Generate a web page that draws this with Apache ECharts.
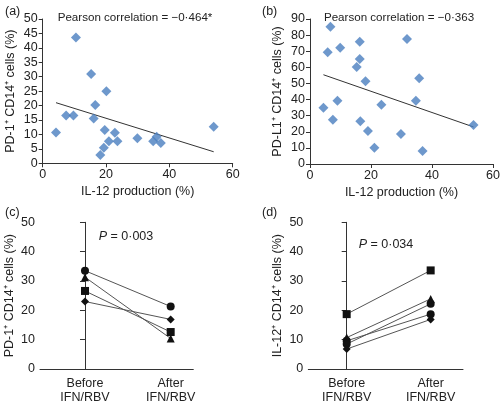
<!DOCTYPE html>
<html><head><meta charset="utf-8">
<script src="https://cdn.jsdelivr.net/npm/echarts@6/dist/echarts.min.js"></script>
<style>html,body{margin:0;padding:0;background:#fff}#c{width:503px;height:405px}</style>
</head><body><div id="c"></div>
<script>
// Panel (a): IL-12 production vs PD-1+ CD14+
const aX = [4.2,7.4,9.7,10.5,15.3,16.6,16.1,20.1,19.6,22.8,20.9,23.6,19.3,18.2,29.9,34.9,36.0,37.3,54.0];
const aY = [10.7,16.6,16.6,43.6,30.9,20.2,15.5,25.0,11.5,10.6,7.6,7.6,5.4,2.9,8.7,7.6,9.2,7.0,12.7];
const aFitX = [4.2,54.0];
const aFitY = [21.0,4.0];
// Panel (b): IL-12 production vs PD-L1+ CD14+
const bX = [6.7,5.8,9.9,16.3,16.3,15.3,18.2,31.8,35.8,34.7,23.4,9.0,4.4,7.5,16.5,19.0,29.8,21.1,36.9,53.6];
const bY = [85.2,69.3,72.2,75.9,65.2,60.2,51.3,77.6,53.2,39.3,36.8,39.3,34.9,27.5,26.5,20.5,18.6,10.1,8.1,24.2];
const bFitX = [4.4,53.6];
const bFitY = [55.4,23.0];
// Panel (c): PD-1+ CD14+ before/after
const cBefore = [33.5,31.3,26.6,23.0];
const cAfter = [21.3,10.4,12.6,16.9];
const cSymbols = ['circle','triangle','rect','diamond'];
// Panel (d): IL-12+ CD14+ before/after
const dBefore = [18.7,10.7,9.6,8.5,6.8];
const dAfter = [33.6,23.9,18.7,22.2,16.9];
const dSymbols = ['rect','triangle','circle','circle','diamond'];
const timeLabels = ['Before\nIFN/RBV','After\nIFN/RBV'];

const FONT = '"Liberation Sans", Arial, sans-serif';
const AX = '#333';
const chart = echarts.init(document.getElementById('c'), null, {renderer:'canvas'});

function valAxis(gi, min, max, interval, name, gap, extra) {
  return Object.assign({
    type:'value', gridIndex:gi, min, max, interval,
    name, nameLocation:'middle', nameGap:gap,
    nameTextStyle:{fontFamily:FONT, fontSize:12.5, color:'#222'},
    axisLine:{show:true, lineStyle:{color:AX, width:1}},
    axisTick:{show:true, length:4, lineStyle:{color:AX}},
    axisLabel:{fontFamily:FONT, fontSize:12.5, color:'#222', margin:5},
    splitLine:{show:false}
  }, extra||{});
}
function timeAxis(gi, min, max) {
  return {
    type:'value', gridIndex:gi, min, max,
    axisLine:{show:true, lineStyle:{color:AX, width:1}},
    axisTick:{show:false},
    splitLine:{show:false},
    axisLabel:{customValues:[0,1], fontFamily:FONT, fontSize:12.5, color:'#222', lineHeight:14, margin:8,
      formatter:(v)=> v===0 ? timeLabels[0] : timeLabels[1]}
  };
}

const series = [];
series.push({type:'scatter', xAxisIndex:0, yAxisIndex:0, symbol:'diamond', symbolSize:10,
  itemStyle:{color:'#4a7ebf'}, data:aX.map((x,i)=>[x,aY[i]]), z:3});
series.push({type:'line', xAxisIndex:0, yAxisIndex:0, symbol:'none', lineStyle:{color:'#333', width:1},
  data:aFitX.map((x,i)=>[x,aFitY[i]]), z:2});
series.push({type:'scatter', xAxisIndex:1, yAxisIndex:1, symbol:'diamond', symbolSize:10,
  itemStyle:{color:'#4a7ebf'}, data:bX.map((x,i)=>[x,bY[i]]), z:3});
series.push({type:'line', xAxisIndex:1, yAxisIndex:1, symbol:'none', lineStyle:{color:'#333', width:1},
  data:bFitX.map((x,i)=>[x,bFitY[i]]), z:2});
cBefore.forEach((b,i)=>{
  series.push({type:'line', xAxisIndex:2, yAxisIndex:2, symbol:cSymbols[i], symbolSize:8, showSymbol:true,
    itemStyle:{color:'#111'}, lineStyle:{color:'#555', width:1}, data:[[0,b],[1,cAfter[i]]]});
});
dBefore.forEach((b,i)=>{
  series.push({type:'line', xAxisIndex:3, yAxisIndex:3, symbol:dSymbols[i], symbolSize:8, showSymbol:true,
    itemStyle:{color:'#111'}, lineStyle:{color:'#555', width:1}, data:[[0,b],[1,dAfter[i]]]});
});

const TS = {fontFamily:FONT, fontSize:12.5, fontWeight:'normal', color:'#222',
  rich:{i:{fontFamily:FONT, fontSize:12.5, fontStyle:'italic', fontWeight:'normal', color:'#222'}}};
const TS2 = {fontFamily:FONT, fontSize:11.6, fontWeight:'normal', color:'#222'};
const T = (text, left, top, extra) => Object.assign({text, left, top, textStyle:TS}, extra||{});

chart.setOption({
  animation:false,
  backgroundColor:'#fff',
  title:[
    T('(a)', 0, 0),
    T('Pearson correlation = \u22120\u00b7464*', 130, 7, {textAlign:'center', textStyle:TS2}),
    T('(b)', 257, 0),
    T('Pearson correlation = \u22120\u00b7363', 394, 7, {textAlign:'center', textStyle:TS2}),
    T('(c)', 0, 201),
    T('{i|P} = 0\u00b7003', 121, 225, {textAlign:'center'}),
    T('(d)', 257, 201),
    T('{i|P} = 0\u00b7034', 381, 233, {textAlign:'center'})
  ],
  grid:[
    {left:42.7, top:19, width:190, height:144.3},
    {left:310, top:19, width:185.7, height:145},
    {left:40, top:222.3, width:153.3, height:151.7},
    {left:308.3, top:222.3, width:154.7, height:151.7}
  ],
  xAxis:[
    valAxis(0, 0, 60, 20, 'IL-12 production (%)', 22),
    valAxis(1, 0, 60, 20, 'IL-12 production (%)', 22),
    timeAxis(2, -0.525, 1.264),
    timeAxis(3, -0.457, 1.385)
  ],
  yAxis:[
    valAxis(0, 0, 50, 5, 'PD-1\u207a CD14\u207a cells (%)', 26),
    valAxis(1, 0, 90, 10, 'PD-L1\u207a CD14\u207a cells (%)', 26),
    valAxis(2, 0, 50, 10, 'PD-1\u207a CD14\u207a cells (%)', 24, {axisTick:{show:true, length:5, lineStyle:{color:AX}}}),
    valAxis(3, 0, 50, 10, 'IL-12\u207a CD14\u207a cells (%)', 24, {axisTick:{show:true, length:5, lineStyle:{color:AX}}})
  ],
  series
});
</script></body></html>
